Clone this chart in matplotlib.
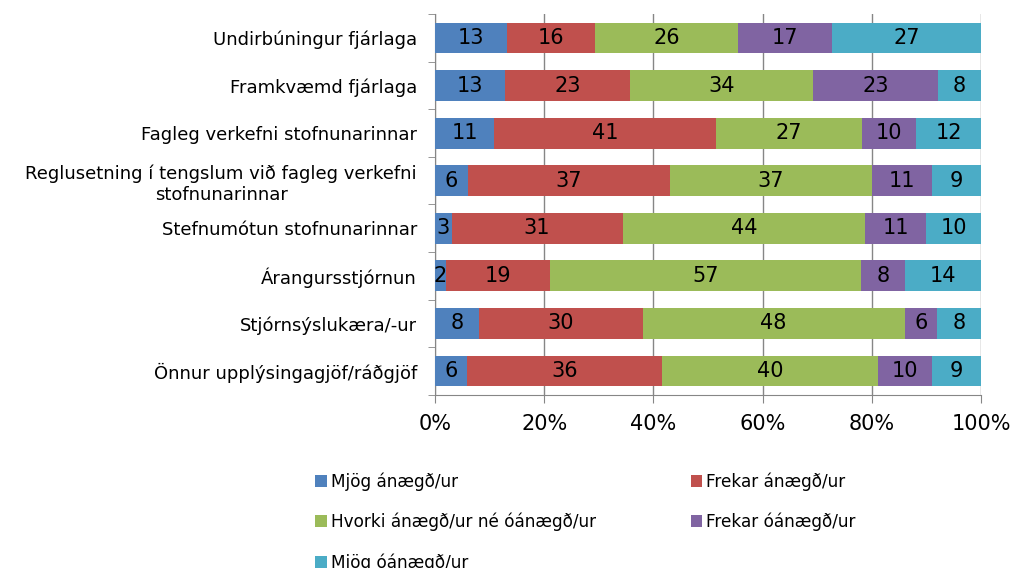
import matplotlib.pyplot as plt
import numpy as np

plt.rcParams['font.family'] = ['DejaVu Sans']

categories = ['Undirbúningur fjárlaga', 'Framkvæmd fjárlaga',
              'Fagleg verkefni stofnunarinnar',
              'Reglusetning í tengslum við fagleg verkefni\nstofnunarinnar',
              'Stefnumótun stofnunarinnar', 'Árangursstjórnun',
              'Stjórnsýslukæra/-ur', 'Önnur upplýsingagjöf/ráðgjöf']
series = ['Mjög ánægð/ur', 'Frekar ánægð/ur', 'Hvorki ánægð/ur né óánægð/ur',
          'Frekar óánægð/ur', 'Mjög óánægð/ur']
mjog_anaegd = [13, 13, 11, 6, 3, 2, 8, 6]
frekar_anaegd = [16, 23, 41, 37, 31, 19, 30, 36]
hvorki = [26, 34, 27, 37, 44, 57, 48, 40]
frekar_oanaegd = [17, 23, 10, 11, 11, 8, 6, 10]
mjog_oanaegd = [27, 8, 12, 9, 10, 14, 8, 9]
colors = ['#4F81BD', '#C0504D', '#9BBB59', '#8064A2', '#4BACC6']

vals = np.array([mjog_anaegd, frekar_anaegd, hvorki, frekar_oanaegd, mjog_oanaegd], dtype=float)
pct = vals / vals.sum(axis=0) * 100

fig = plt.figure(figsize=(10.14, 5.68), dpi=100)
ax = fig.add_axes([0.429, 0.305, 0.5385, 0.67])

y = np.arange(len(categories))
left = np.zeros(len(categories))
handles = []
for i in range(len(series)):
    bars = ax.barh(y, pct[i], left=left, height=0.65, color=colors[i],
                   label=series[i], zorder=3)
    ax.bar_label(bars, labels=[str(int(v)) for v in vals[i]], label_type='center',
                 fontsize=15, color='black')
    handles.append(bars)
    left += pct[i]

ax.set_xlim(0, 100)
ax.set_ylim(len(categories) - 0.5, -0.5)
ax.set_yticks(y)
ax.set_yticklabels(categories, fontsize=13, multialignment='center')
ax.set_yticks(np.arange(-0.5, len(categories)), minor=True)
ax.tick_params(axis='y', which='major', length=0, pad=13)
ax.tick_params(axis='y', which='minor', length=5, color='#868686')
ax.set_xticks(range(0, 101, 20))
ax.set_xticklabels([f'{v}%' for v in range(0, 101, 20)], fontsize=15)
ax.tick_params(axis='x', length=6, color='#868686', pad=8)
ax.grid(axis='x', color='#868686', linewidth=1, zorder=0)
for s in ['top', 'right']:
    ax.spines[s].set_visible(False)
for s in ['left', 'bottom']:
    ax.spines[s].set_color('#868686')

order = [0, 2, 4, 1, 3]
fig.legend([handles[i] for i in order], [series[i] for i in order],
           ncol=2, loc='upper left', bbox_to_anchor=(0.311, 0.169),
           frameon=False, fontsize=12.2, handlelength=0.7, handleheight=0.7,
           handletextpad=0.2, labelspacing=1.3, columnspacing=5.6,
           borderaxespad=0, borderpad=0)

fig.savefig('out.png', dpi=100)
